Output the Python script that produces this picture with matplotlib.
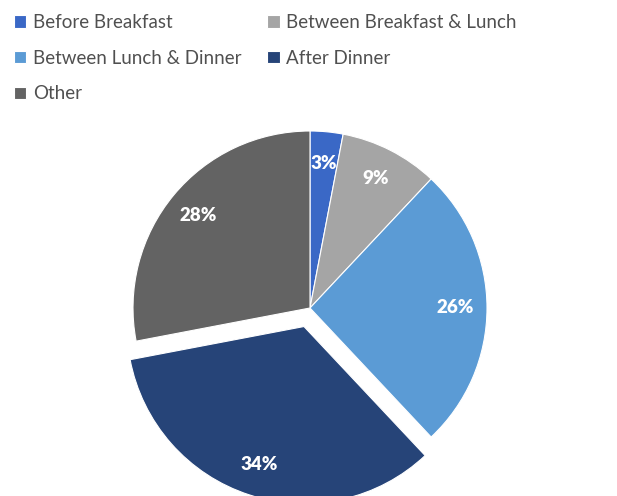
import matplotlib
matplotlib.use("Agg")
import matplotlib.pyplot as plt

categories = ["Before Breakfast", "Between Breakfast & Lunch",
              "Between Lunch & Dinner", "After Dinner", "Other"]
shares = [3, 9, 26, 34, 28]
colors = ["#3A68C6", "#A5A5A5", "#5B9BD5", "#264478", "#636363"]
explode = [0, 0, 0, 0.11, 0]

plt.rcParams["font.family"] = ["Lato", "DejaVu Sans"]

W, H = 617, 496
fig = plt.figure(figsize=(W / 100, H / 100), dpi=100)

# pie axes: centre at (310, 308) px from top-left, radius ~177 px
cx, cy, R = 310, H - 308, 177
half = 210
ax = fig.add_axes([(cx - half) / W, (cy - half) / H, 2 * half / W, 2 * half / H])
lim = half / R

wedges, _, autotexts = ax.pie(
    shares, colors=colors, explode=explode, startangle=90, counterclock=False,
    autopct=lambda p: f"{p:.0f}%", pctdistance=0.82,
    wedgeprops=dict(edgecolor="white", linewidth=0.8),
    textprops=dict(color="white", fontsize=13.5, fontweight="heavy"),
    radius=1.0, frame=True,
)
ax.set_xlim(-lim, lim)
ax.set_ylim(-lim, lim)
ax.set_aspect("equal")
ax.axis("off")

order = [0, 2, 4, 1, 3]
fig.legend([wedges[i] for i in order], [categories[i] for i in order],
           ncol=2, loc="upper left", bbox_to_anchor=(-3 / W, 1 + 3 / H),
           frameon=False, fontsize=13.5, labelcolor="#505050",
           handlelength=0.65, handleheight=0.65, handletextpad=0.35,
           labelspacing=1.0, columnspacing=1.4)

fig.savefig("out.png", dpi=100, facecolor="white")
